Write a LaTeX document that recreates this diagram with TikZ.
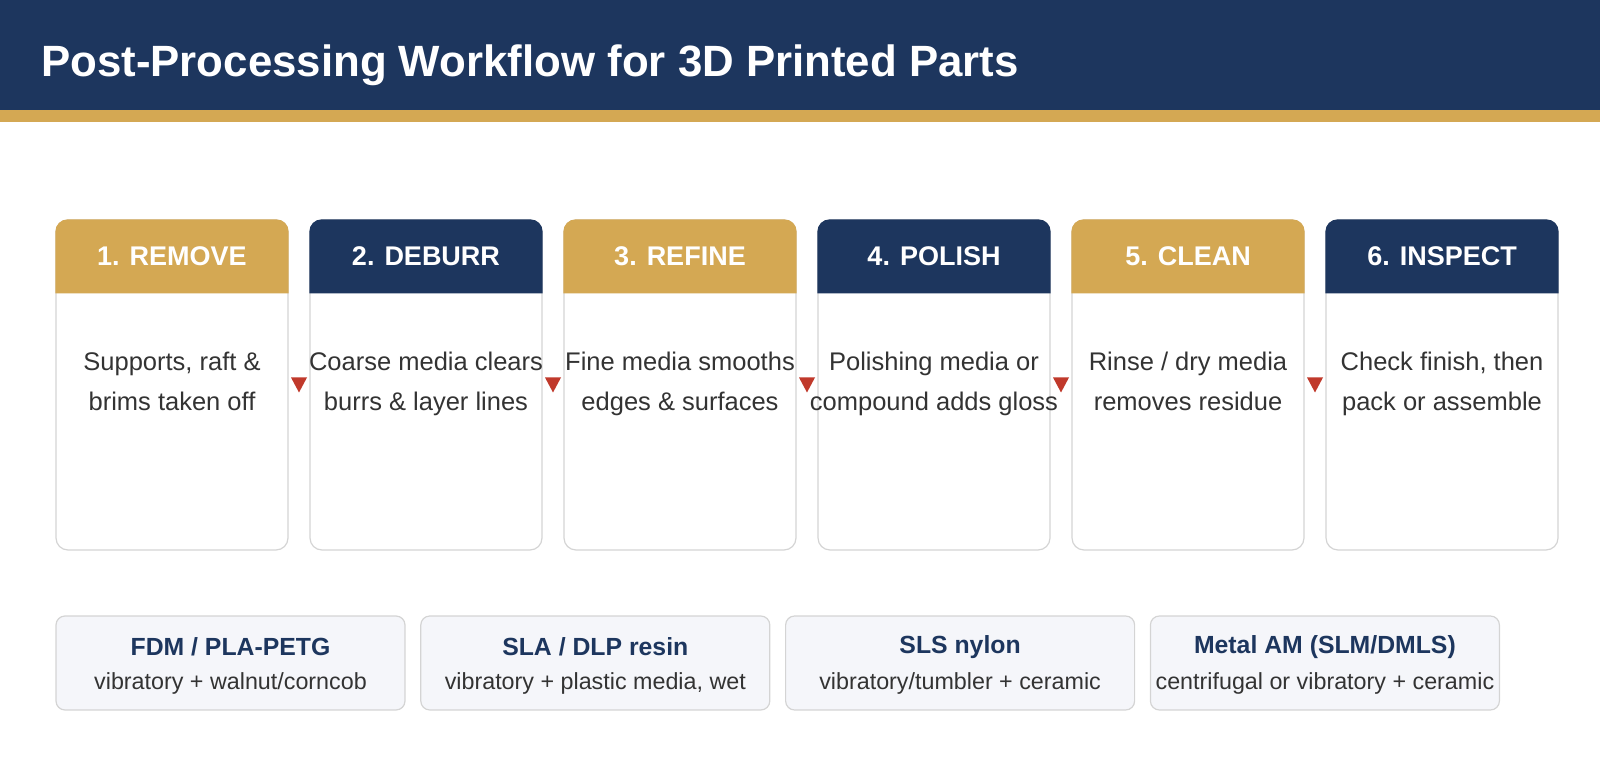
\documentclass[tikz,border=0pt]{standalone}
\usepackage{fontspec}
\setmainfont{Liberation Sans}
\usetikzlibrary{positioning, calc}

\definecolor{navy}{HTML}{1D365E}
\definecolor{gold}{HTML}{D4A853}
\definecolor{arrowred}{HTML}{C0392B}
\definecolor{cardline}{HTML}{D4D4D4}
\definecolor{boxfill}{HTML}{F5F6FA}
\definecolor{bodytext}{HTML}{333333}

\begin{document}
\begin{tikzpicture}[
        x=1pt, y=1pt,
        node distance=20.8pt,
        card/.style={rectangle, draw=cardline, line width=1.2pt, fill=white, rounded corners=12pt,
            minimum width=232pt, minimum height=330pt, inner sep=0pt},
        cardhead/.style={text=white, inner sep=0pt, font=\fontsize{27}{32}\selectfont\bfseries},
        cardbody/.style={anchor=north, text=bodytext, align=center, inner sep=0pt, font=\fontsize{25.5}{40}\selectfont},
        media/.style={rectangle, draw=cardline, line width=1.2pt, fill=boxfill, rounded corners=9pt,
            minimum width=349pt, minimum height=94pt},
        mediahead/.style={text=navy, inner sep=0pt, font=\fontsize{24.8}{28}\selectfont\bfseries},
        mediasub/.style={text=bodytext, inner sep=0pt, font=\fontsize{23.3}{28}\selectfont}
    ]

    \useasboundingbox (0,0) rectangle (1600,760);

    % Title bar
    \fill[navy] (0,650) rectangle (1600,760);
    \fill[gold] (0,638) rectangle (1600,650);
    \node[anchor=base west, text=white, inner sep=0pt, font=\fontsize{43.8}{52}\selectfont\bfseries] (title) at (41,683) {Post-Processing Workflow for 3D Printed Parts};

    % Step cards
    \node[card] (S1) at (172,375) {};
    \node[card, right=of S1] (S2) {};
    \node[card, right=of S2] (S3) {};
    \node[card, right=of S3] (S4) {};
    \node[card, right=of S4] (S5) {};
    \node[card, right=of S5] (S6) {};

    % Header bands
    \foreach \i/\c in {1/gold,2/navy,3/gold,4/navy,5/gold,6/navy}
        \fill[\c] ([yshift=-74pt]S\i.north west) -- ([yshift=-12pt]S\i.north west)
            arc[start angle=180, end angle=90, radius=12pt] -- ([xshift=-12pt]S\i.north east)
            arc[start angle=90, end angle=0, radius=12pt] -- ([yshift=-74pt]S\i.north east) -- cycle;

    % Card headers
    \node[cardhead] (H1) at ([yshift=-37pt]S1.north) {1. REMOVE};
    \node[cardhead] (H2) at ([yshift=-37pt]S2.north) {2. DEBURR};
    \node[cardhead] (H3) at ([yshift=-37pt]S3.north) {3. REFINE};
    \node[cardhead] (H4) at ([yshift=-37pt]S4.north) {4. POLISH};
    \node[cardhead] (H5) at ([yshift=-37pt]S5.north) {5. CLEAN};
    \node[cardhead] (H6) at ([yshift=-37pt]S6.north) {6. INSPECT};

    % Card texts
    \node[cardbody] (B1) at ([yshift=-132pt]S1.north) {Supports, raft \&\\brims taken off};
    \node[cardbody] (B2) at ([yshift=-132pt]S2.north) {Coarse media clears\\burrs \& layer lines};
    \node[cardbody] (B3) at ([yshift=-132pt]S3.north) {Fine media smooths\\edges \& surfaces};
    \node[cardbody] (B4) at ([yshift=-132pt]S4.north) {Polishing media or\\compound adds gloss};
    \node[cardbody] (B5) at ([yshift=-132pt]S5.north) {Rinse / dry media\\removes residue};
    \node[cardbody] (B6) at ([yshift=-132pt]S6.north) {Check finish, then\\pack or assemble};

    % Step markers
    \foreach \i/\j in {1/2,2/3,3/4,4/5,5/6} {
        \coordinate (T\i) at ($(S\i.east)!0.5!(S\j.west)$);
        \fill[arrowred] ($(T\i)+(-8,7.5)$) -- ($(T\i)+(8,7.5)$) -- ($(T\i)+(0,-7.5)$) -- cycle;
    }

    % Media boxes
    \node[media] (M1) at (230.5,97) {};
    \node[media, right=14.6pt of M1] (M2) {};
    \node[media, right=14.6pt of M2] (M3) {};
    \node[media, right=14.6pt of M3] (M4) {};

    \node[mediahead] (MH1) at ([yshift=16pt]M1.center) {FDM / PLA-PETG};
    \node[mediahead] (MH2) at ([yshift=16pt]M2.center) {SLA / DLP resin};
    \node[mediahead] (MH3) at ([yshift=16pt]M3.center) {SLS nylon};
    \node[mediahead] (MH4) at ([yshift=16pt]M4.center) {Metal AM (SLM/DMLS)};

    \node[mediasub] (MS1) at ([yshift=-20pt]M1.center) {vibratory + walnut/corncob};
    \node[mediasub] (MS2) at ([yshift=-20pt]M2.center) {vibratory + plastic media, wet};
    \node[mediasub] (MS3) at ([yshift=-20pt]M3.center) {vibratory/tumbler + ceramic};
    \node[mediasub] (MS4) at ([yshift=-20pt]M4.center) {centrifugal or vibratory + ceramic};

\end{tikzpicture}
\end{document}
